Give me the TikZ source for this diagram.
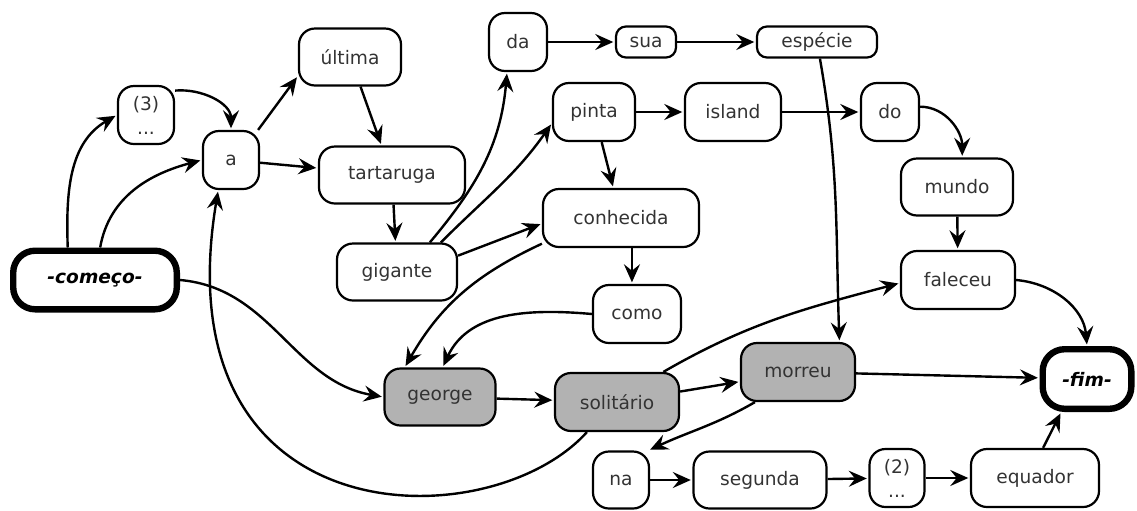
\documentclass[tikz,border=0pt]{standalone}
\usepackage{fontspec}
\setmainfont{DejaVu Sans}
\usetikzlibrary{arrows.meta}

\begin{document}
\begin{tikzpicture}[
    x=0.5pt, y=-0.5pt,
    every node/.style={draw, rounded corners=8pt, rectangle, inner sep=0pt, line width=1.1pt, minimum height=29pt, font=\fontsize{9.3}{11}\selectfont, text=black!80, align=center},
    shade/.style={fill=black!30},
    limit/.style={line width=3.2pt, rounded corners=11pt, font=\fontsize{9.3}{11}\selectfont\bfseries\itshape, text=black},
    slim/.style={minimum height=15.5pt, rounded corners=5pt},
    link/.style={->, line width=1.2pt, shorten >=0.8pt},
    >={Stealth[length=9pt,width=8pt,inset=3.2pt]}
]
\useasboundingbox (0,0) rectangle (1137,510);
\node[limit, minimum width=81.8pt, minimum height=29.3pt] (comeco) at (95,280) {-começo-};
\node[minimum width=28pt] (n3) at (146,115) {(3)\\[1pt]...};
\node[minimum width=28pt] (a) at (231,160) {a};
\node[minimum width=51pt, minimum height=28.5pt] (ultima) at (350,57) {última};
\node[minimum width=73pt, minimum height=28.5pt] (tartaruga) at (392,175) {tartaruga};
\node[minimum width=60pt, minimum height=28.5pt] (gigante) at (397,272) {gigante};
\node[minimum width=29pt] (da) at (518,42) {da};
\node[slim, minimum width=30pt] (sua) at (646,42) {sua};
\node[slim, minimum width=60pt] (especie) at (817,42) {espécie};
\node[minimum width=41pt] (pinta) at (594,112) {pinta};
\node[minimum width=48pt] (island) at (733,112) {island};
\node[minimum width=29pt] (do) at (890,112) {do};
\node[minimum width=56pt, minimum height=28.5pt] (mundo) at (957,187) {mundo};
\node[minimum width=78pt] (conhecida) at (621,218) {conhecida};
\node[minimum width=44pt] (como) at (637,314) {como};
\node[minimum width=57pt] (faleceu) at (958,280) {faleceu};
\node[shade, minimum width=55.5pt, minimum height=28.5pt] (george) at (440,397) {george};
\node[shade, minimum width=62pt] (solitario) at (617,402) {solitário};
\node[shade, minimum width=57pt] (morreu) at (798,372) {morreu};
\node[limit, minimum width=44.3pt, minimum height=29.8pt] (fim) at (1087,379) {-fim-};
\node[minimum width=28pt, minimum height=28.5pt] (na) at (621,480) {na};
\node[minimum width=66.5pt, minimum height=28.5pt] (segunda) at (760,480) {segunda};
\node[minimum width=27.5pt] (n2) at (897,478) {(2)\\[1pt]...};
\node[minimum width=64pt] (equador) at (1035,478) {equador};

\draw[link] (comeco.130) to[out=92,in=210] (n3.west);
\draw[link] (comeco.81) to[out=80,in=195] (a.west);
\draw[link] (n3.40) to[out=5,in=90] (a.north);
\draw[link] (a.48) -- (ultima.200);
\draw[link] (a) -- (tartaruga);
\draw[link] (ultima) -- (tartaruga);
\draw[link] (tartaruga) -- (gigante);
\draw[link] (gigante.42) to[out=50,in=-95] (da.-110);
\draw[link] (gigante.34) to[out=45,in=235] (pinta.195);
\draw[link] (gigante.15) -- (conhecida.184);
\draw[link] (conhecida.198) to[out=205,in=60] (george.140);
\draw[link] (como.west) to[out=175,in=65] (george.85);
\draw[link] (pinta) -- (island);
\draw[link] (island) -- (do);
\draw[link] (pinta) -- (conhecida);
\draw[link] (conhecida.290) -- (conhecida.290 |- como.north);
\draw[link] (da) -- (sua);
\draw[link] (sua) -- (especie);
\draw[link] (especie.-80) to[out=-80,in=92] (morreu.36);
\draw[link] (do.10) to[out=0,in=90] (mundo.80);
\draw[link] (mundo) -- (faleceu);
\draw[link] (faleceu.east) to[out=-5,in=95] (fim.north);
\draw[link] (comeco.east) to[out=-5,in=170] (george.west);
\draw[link] (george) -- (solitario);
\draw[link] (solitario.-135) .. controls (490,540) and (160,540) .. (a.-113);
\draw[link] (solitario) -- (morreu);
\draw[link] (solitario.33) to[out=30,in=195] (faleceu.183);
\draw[link] (morreu) -- (fim);
\draw[link] (morreu.-145) to[out=-150,in=25] (na.47);
\draw[link] (na) -- (segunda);
\draw[link] (segunda) -- (n2);
\draw[link] (n2) -- (equador);
\draw[link] (equador.75) -- (fim.-128);
\end{tikzpicture}
\end{document}
